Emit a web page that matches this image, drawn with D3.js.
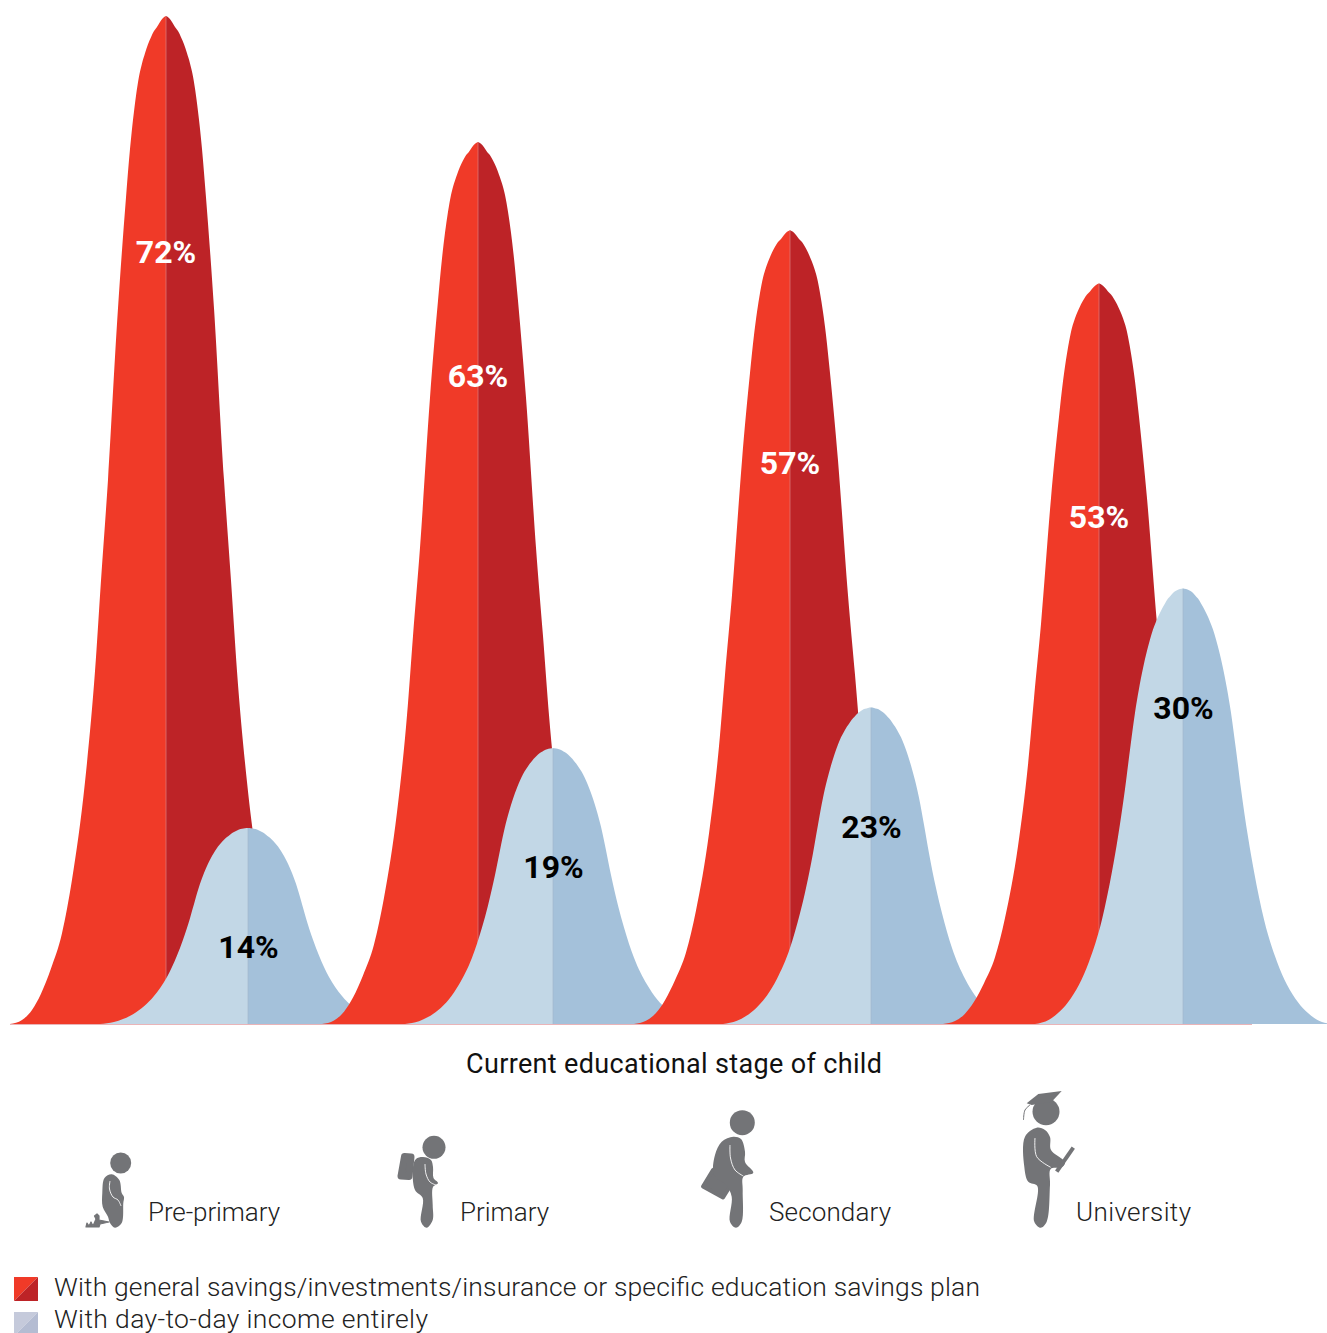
<!DOCTYPE html>
<html><head><meta charset="utf-8">
<script src="https://cdn.jsdelivr.net/npm/d3@7"></script>
<style>html,body{margin:0;padding:0;background:#fff;overflow:hidden}svg{display:block}</style>
</head><body><div id="chart"></div>
<script>
const stages = ["Pre-primary","Primary","Secondary","University"];
const savingsLabels = [72,63,57,53];
const incomeLabels = [14,19,23,30];
// peak heights, in the same percent units
const savingsPeaks = [72,63,56.7,52.9];
const incomePeaks = [14,19.7,22.6,31.1];
// bell outline: distance from centre (x units), share of the peak
const savingsOffset = [0,3,6,9,12,15,18,21,24,27,30,33,36,40,48,58,65,71,81,94,104,115,125,134,144,156];
const savingsShare = [1,.998,.994,.989,.985,.979,.972,.963,.953,.940,.921,.897,.868,.82,.71,.54,.44,.35,.24,.143,.09,.055,.03,.014,.004,0];
const incomeOffset = [0,3,6,9,12,15,18,21,24,27,30,33,36,40,44,48,53,58,65,71,81,94,104,115,125,134,148];
const incomeShare = [1,.999,.996,.992,.985,.977,.966,.954,.94,.924,.906,.883,.857,.817,.77,.715,.63,.54,.43,.35,.24,.143,.09,.05,.025,.01,0];
const axisTitle = "Current educational stage of child";
const legendLabels = ["With general savings/investments/insurance or specific education savings plan","With day-to-day income entirely"];

const W=1327,H=1333;
const svg=d3.select("#chart").append("svg").attr("width",W).attr("height",H).attr("viewBox",`0 0 ${W} ${H}`);
const y=d3.scaleLinear().domain([0,72]).range([1024,16]);
const xSavings=d3.scaleOrdinal().domain(stages).range([166,478,790,1099]);
const xIncome=d3.scaleOrdinal().domain(stages).range([248,553,871,1183]);
const SANS="Roboto, 'Liberation Sans', sans-serif";

function half(centre,peak,offs,share,dir){
  const pts=offs.map((o,i)=>[centre+dir*o,share[i]*peak]);
  return d3.area().x(d=>d[0]).y0(y(0)).y1(d=>y(d[1])).curve(d3.curveMonotoneX)(pts.sort((a,b)=>a[0]-b[0]));
}
function bell(g,centre,peak,offs,share,cL,cR,cLine){
  g.append("path").attr("d",half(centre,peak,offs,share,-1)).attr("fill",cL);
  g.append("path").attr("d",half(centre,peak,offs,share,1)).attr("fill",cR);
  g.append("line").attr("x1",centre).attr("x2",centre).attr("y1",y(peak)).attr("y2",y(0)).attr("stroke",cLine).attr("stroke-width",.7);
}
stages.forEach((s,i)=>{
  const g=svg.append("g").attr("class","stage");
  bell(g,xSavings(s),savingsPeaks[i],savingsOffset,savingsShare,"#f03a28","#bd2327","#dc8080");
  bell(g,xIncome(s),incomePeaks[i],incomeOffset,incomeShare,"#c2d7e6","#a4c1da","#a3b8cc");
});
svg.append("line").attr("x1",10).attr("x2",1252).attr("y1",y(0)+.5).attr("y2",y(0)+.5).attr("stroke","#e9b4b8").attr("stroke-width",1);
const savingsLabelDrop=[246.5,244.5,243.5,244.5];
stages.forEach((s,i)=>{
  svg.append("text").attr("x",xSavings(s)).attr("y",y(savingsPeaks[i])+savingsLabelDrop[i]).attr("text-anchor","middle")
    .attr("font-family",SANS).attr("font-weight",700).attr("font-size",32).attr("fill","#fff").text(savingsLabels[i]+"%");
  svg.append("text").attr("x",xIncome(s)+.5).attr("y",y(incomePeaks[i])+130).attr("text-anchor","middle")
    .attr("font-family",SANS).attr("font-weight",700).attr("font-size",32).attr("fill","#000").text(incomeLabels[i]+"%");
});
svg.append("text").attr("x",466).attr("y",1073).attr("font-family",SANS).attr("font-size",27)
  .attr("textLength",416).attr("lengthAdjust","spacing").attr("fill","#111").text(axisTitle);

// pictograms
const GREY="#737477";
const closed=d3.line().curve(d3.curveCatmullRomClosed.alpha(.5));
const open=d3.line().curve(d3.curveCatmullRom.alpha(.5));
const poly=d3.line().curve(d3.curveLinearClosed);
const icons=[
 {label:"Pre-primary",lx:148,len:132,head:[120.7,1163,10.5],round:1.2,
  body:[[102.3,1193],[104.5,1178],[111.7,1174.3],[119.3,1180],[121.7,1193],[124,1197],[123.3,1203],[121.7,1223],[115,1227.7],[110,1223],[108,1216.7],[102.7,1206.7]],
  arm:[[110,1181],[109.5,1189],[113,1197],[118,1200],[121,1206]],
  solid:[[[86,1227],[87,1223],[89,1226],[91,1222],[93,1226],[96,1219],[94.5,1216],[97,1214],[99,1216],[99,1220],[109,1222],[100,1224],[99,1227]]]},
 {label:"Primary",lx:460,len:89,head:[434,1147.3,11.5],round:7,
  body:[[423,1157],[431,1160],[433,1167],[433.5,1178],[438,1183],[433,1187],[432.7,1205],[432.7,1220],[426.7,1227.7],[421,1221.7],[422.7,1198],[415,1190],[413,1167],[416,1159]],
  arm:[[425,1164],[426,1174],[430,1182],[436,1185]],
  solid:[[[401,1176],[404.5,1156.5],[411,1157],[409,1176.5]]]},
 {label:"Secondary",lx:769,len:122,head:[742.3,1122.7,12.5],round:4,
  body:[[733.3,1136.7],[741,1139],[745,1151.7],[745,1162],[753.3,1172.7],[743.3,1176.7],[742.7,1190],[741.7,1221.7],[736,1227.7],[730,1221.7],[731.7,1196.7],[726,1185],[714,1175],[715,1155],[721.7,1141.7]],
  arm:[[730,1145],[730.5,1158],[735,1170],[743.3,1176]],
  solid:[[[703,1186.5],[713,1170],[732,1183],[723,1197.5]]]},
 {label:"University",lx:1076,len:115,head:[1046,1111.7,13.5],round:0,
  body:[[1036.7,1127.7],[1045,1130],[1050,1137],[1051,1150],[1063.3,1160],[1065,1163.3],[1061.7,1167.3],[1050.7,1169],[1050,1185],[1046.7,1221.7],[1040.7,1227.7],[1034.3,1221.7],[1037.3,1186],[1028.3,1181.7],[1024.3,1166.7],[1025,1136.7]],
  arm:[[1035,1138],[1036.7,1156.7],[1050.7,1167.3]],solid:[]}
];
icons.forEach(ic=>{
  const g=svg.append("g").attr("fill",GREY);
  g.append("circle").attr("cx",ic.head[0]).attr("cy",ic.head[1]).attr("r",ic.head[2]);
  ic.solid.forEach(p=>g.append("path").attr("d",poly(p)).attr("stroke",GREY).attr("stroke-width",ic.round).attr("stroke-linejoin","round"));
  g.append("path").attr("d",closed(ic.body));
  g.append("path").attr("d",open(ic.arm)).attr("fill","none").attr("stroke","#fff").attr("stroke-width",.9);
  svg.append("text").attr("x",ic.lx).attr("y",1221).attr("font-family",SANS).attr("font-weight",300).attr("font-size",26)
    .attr("textLength",ic.len).attr("lengthAdjust","spacing").attr("fill","#222").text(ic.label);
});
// graduate cap and scroll
svg.append("path").attr("d","M1026.7,1103.3L1038.3,1094L1061.7,1091L1051.7,1101.7L1031.7,1105Z").attr("fill",GREY);
svg.append("path").attr("d",open([[1030,1105],[1025,1110],[1023.5,1120]])).attr("fill","none").attr("stroke",GREY).attr("stroke-width",1);
svg.append("line").attr("x1",1073.3).attr("y1",1147.7).attr("x2",1056.7).attr("y2",1171.7).attr("stroke",GREY).attr("stroke-width",4);

// legend
const swatches=[["#f03a28","#bd2327"],["#c5cadb","#b4bcd2"]];
const legendLen=[926,374], legendBase=[1296,1328];
legendLabels.forEach((t,i)=>{
  const top=1277+i*35,s=24;
  svg.append("path").attr("d",`M14,${top}h${s}L14,${top+s}Z`).attr("fill",swatches[i][0]);
  svg.append("path").attr("d",`M38,${top}v${s}h${-s}Z`).attr("fill",swatches[i][1]);
  svg.append("text").attr("x",54).attr("y",legendBase[i]).attr("font-family",SANS).attr("font-weight",300).attr("font-size",26.5)
    .attr("textLength",legendLen[i]).attr("lengthAdjust","spacing").attr("fill","#222").text(t);
});
</script></body></html>
